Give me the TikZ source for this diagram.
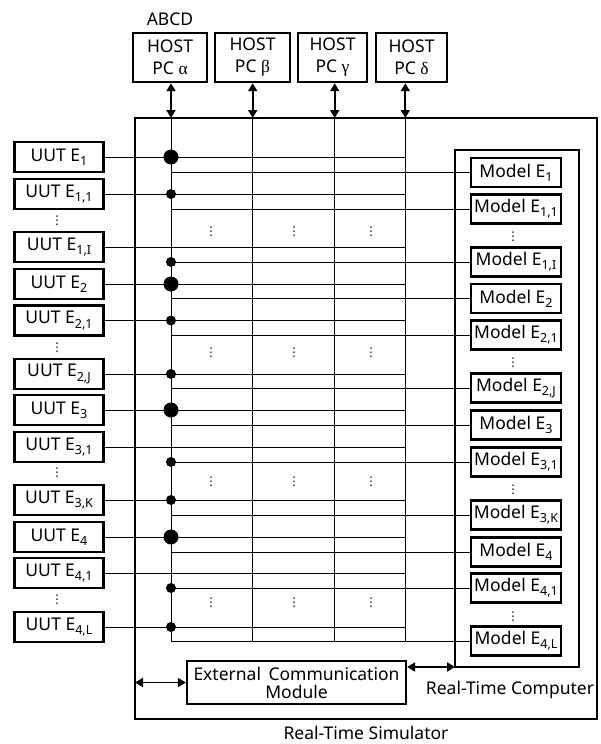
\documentclass[tikz,border=0pt]{standalone}
\usepackage{fontspec}
\setmainfont{Noto Sans}
\newfontfamily\dvfont{DejaVu Sans}
\newfontfamily\grk{Liberation Serif}
\usetikzlibrary{arrows.meta}
\newcommand\sbx[1]{\raisebox{-0.45ex}{\fontsize{12.5}{12.5}\selectfont #1}}
\begin{document}
\begin{tikzpicture}[x=1pt,y=-1pt,
  font=\fontsize{17.5}{22}\selectfont,
  box/.style={draw, line width=2.4pt, minimum width=89pt, minimum height=30pt, inner sep=0pt},
  mbox/.style={box, minimum width=90pt, minimum height=29pt},
  hbox/.style={box, minimum height=49pt, align=center},
  wire/.style={line width=0.9pt},
  dbl/.style={{Triangle[length=8pt,width=9pt]}-{Triangle[length=8pt,width=9pt]}, line width=1.8pt},
  bigdot/.style={circle, fill, minimum size=15pt, inner sep=0pt},
  smalldot/.style={circle, fill, minimum size=10pt, inner sep=0pt},
  ell/.style={font=\dvfont\fontsize{12}{12}\selectfont, inner sep=0pt}]
\useasboundingbox (0,0) rectangle (600,744);

% outer boxes
\draw[line width=2pt] (135,118) rectangle (597,719);
\node[anchor=north] (sim) at (366,723) {Real-Time Simulator};
\draw[line width=2.6pt] (455,150) rectangle (579,667);
\node (rtc) at (510,690) {Real-Time Computer};

% bus coordinates
\coordinate (atop) at (171,118);  \coordinate (abot) at (171,641);
\coordinate (btop) at (252.7,118); \coordinate (bbot) at (252.7,641);
\coordinate (ctop) at (334.7,118); \coordinate (cbot) at (334.7,641);
\coordinate (dtop) at (405.3,118); \coordinate (dbot) at (405.3,641);

% hosts
\node (abcd) at (170,19) {ABCD};
\node[hbox, minimum width=74pt] (h1) at (170,57.5) {HOST\\PC {\grk α}};
\node[hbox, minimum width=75pt] (h2) at (252.5,57.5) {HOST\\PC {\grk β}};
\node[hbox, minimum width=69pt] (h3) at (332.5,57.5) {HOST\\PC {\grk γ}};
\node[hbox, minimum width=71pt] (h4) at (411.5,57.5) {HOST\\PC {\grk δ}};
\draw[dbl] (h1.south -| atop) -- (atop);
\draw[dbl] (h2.south -| btop) -- (btop);
\draw[dbl] (h3.south -| ctop) -- (ctop);
\draw[dbl] (h4.south -| dtop) -- (dtop);

% vertical buses
\draw[wire] (atop) -- (abot);
\draw[wire] (btop) -- (bbot);
\draw[wire] (ctop) -- (cbot);
\draw[wire] (dtop) -- (dbot);

% rows
\foreach \i/\yu/\ym/\lab in {1/157/172.5/1, 2/194/209/{1,1}, 3/247/262/{1,I},
  4/284/298.5/2, 5/320.5/335/{2,1}, 6/374/388/{2,J}, 7/410/425/3, 8/447/462/{3,1},
  9/500/515/{3,K}, 10/537/552/4, 11/573/588/{4,1}, 12/627/641/{4,L}}
{
  \node[box] (u\i) at (59,\yu) {UUT E\sbx{\lab}};
  \node[mbox] (m\i) at (516,\ym) {Model E\sbx{\lab}};
  \draw[wire] (u\i.east) -- (u\i.east -| dtop);
  \draw[wire] (m\i.west -| atop) -- (m\i.west);
}

% junction dots
\foreach \i in {1,4,7,10} \node[bigdot] (jb\i) at (u\i.east -| atop) {};
\foreach \i in {2,5,6,9,12} \node[smalldot] (ju\i) at (u\i.east -| atop) {};
\foreach \i in {3,8,11} \node[smalldot] (jm\i) at (m\i.west -| atop) {};

% ellipses
\foreach \k/\yl/\yr/\yg in {1/221/237/232, 2/348/363/353, 3/473/490/482, 4/600/617/603}
{
  \node[ell] (el\k) at (57,\yl) {⋮};
  \node[ell] (er\k) at (513,\yr) {⋮};
  \node[ell] (ea\k) at (211,\yg) {⋮};
  \node[ell] (eb\k) at (294,\yg) {⋮};
  \node[ell] (ec\k) at (371,\yg) {⋮};
}

% external communication module
\node[box, minimum width=219pt, minimum height=43pt, align=center, line width=2.2pt] (ecm) at (296.5,682.5) {External\, Communication\\[-4pt]Module};
\coordinate (ol) at (135,682.5);
\coordinate (rl) at (455,667);
\draw[dbl] (ol) -- (ecm.west);
\draw[dbl] (ecm.east |- rl) -- (rl);
\end{tikzpicture}
\end{document}
